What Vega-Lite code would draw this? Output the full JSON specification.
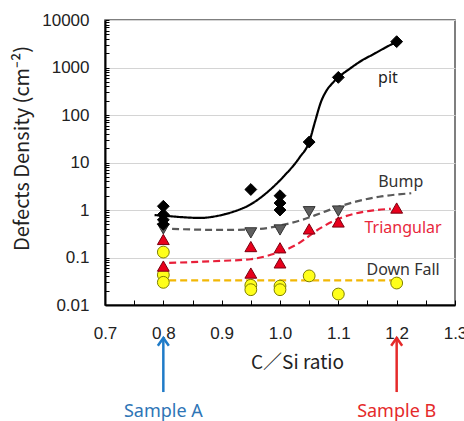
{
  "$schema": "https://vega.github.io/schema/vega-lite/v6.json",
  "width": 350,
  "height": 285,
  "autosize": "none",
  "padding": {"left": 105, "top": 20, "right": 9, "bottom": 116},
  "background": "white",
  "config": {
    "view": {"stroke": "#555", "strokeWidth": 1.5},
    "axis": {"domainColor": "#000", "domainWidth": 2, "tickColor": "#000", "labelColor": "#222", "titleColor": "#222", "labelFont": "Liberation Sans", "labelFontSize": 17, "titleFontWeight": "normal", "labelOverlap": false, "labelFlush": false}
  },
  "datasets": {
    "curves": [
      {"series": "pit", "x": 0.785, "y": 0.78}, {"series": "pit", "x": 0.8, "y": 0.76}, {"series": "pit", "x": 0.83, "y": 0.71}, {"series": "pit", "x": 0.863, "y": 0.68}, {"series": "pit", "x": 0.89, "y": 0.74}, {"series": "pit", "x": 0.92, "y": 0.92}, {"series": "pit", "x": 0.949, "y": 1.3}, {"series": "pit", "x": 0.977, "y": 2.3}, {"series": "pit", "x": 1.005, "y": 4.9}, {"series": "pit", "x": 1.034, "y": 13}, {"series": "pit", "x": 1.05, "y": 27}, {"series": "pit", "x": 1.06, "y": 72}, {"series": "pit", "x": 1.07, "y": 185}, {"series": "pit", "x": 1.08, "y": 330}, {"series": "pit", "x": 1.09, "y": 470}, {"series": "pit", "x": 1.1, "y": 620}, {"series": "pit", "x": 1.12, "y": 950}, {"series": "pit", "x": 1.14, "y": 1400}, {"series": "pit", "x": 1.16, "y": 1900}, {"series": "pit", "x": 1.18, "y": 2600}, {"series": "pit", "x": 1.2, "y": 3500},
      {"series": "Bump", "x": 0.815, "y": 0.4}, {"series": "Bump", "x": 0.9, "y": 0.38}, {"series": "Bump", "x": 0.95, "y": 0.39}, {"series": "Bump", "x": 0.98, "y": 0.42}, {"series": "Bump", "x": 1.0, "y": 0.47}, {"series": "Bump", "x": 1.038, "y": 0.62}, {"series": "Bump", "x": 1.07, "y": 0.86}, {"series": "Bump", "x": 1.094, "y": 1.1}, {"series": "Bump", "x": 1.13, "y": 1.5}, {"series": "Bump", "x": 1.17, "y": 1.9}, {"series": "Bump", "x": 1.225, "y": 2.25},
      {"series": "Triangular", "x": 0.81, "y": 0.077}, {"series": "Triangular", "x": 0.9, "y": 0.085}, {"series": "Triangular", "x": 0.95, "y": 0.092}, {"series": "Triangular", "x": 0.98, "y": 0.11}, {"series": "Triangular", "x": 1.026, "y": 0.18}, {"series": "Triangular", "x": 1.07, "y": 0.42}, {"series": "Triangular", "x": 1.1, "y": 0.65}, {"series": "Triangular", "x": 1.125, "y": 0.82}, {"series": "Triangular", "x": 1.16, "y": 0.98}, {"series": "Triangular", "x": 1.19, "y": 1.06},
      {"series": "Down Fall", "x": 0.81, "y": 0.033}, {"series": "Down Fall", "x": 1.2, "y": 0.033}
    ],
    "points": [
      {"series": "Down Fall", "x": 0.8, "y": 0.13}, {"series": "Down Fall", "x": 0.8, "y": 0.043}, {"series": "Down Fall", "x": 0.8, "y": 0.03}, {"series": "Down Fall", "x": 0.95, "y": 0.026}, {"series": "Down Fall", "x": 0.95, "y": 0.021}, {"series": "Down Fall", "x": 1.0, "y": 0.025}, {"series": "Down Fall", "x": 1.0, "y": 0.021}, {"series": "Down Fall", "x": 1.05, "y": 0.041}, {"series": "Down Fall", "x": 1.1, "y": 0.017}, {"series": "Down Fall", "x": 1.2, "y": 0.029},
      {"series": "Triangular", "x": 0.8, "y": 0.24}, {"series": "Triangular", "x": 0.8, "y": 0.066}, {"series": "Triangular", "x": 0.95, "y": 0.17}, {"series": "Triangular", "x": 0.95, "y": 0.047}, {"series": "Triangular", "x": 1.0, "y": 0.16}, {"series": "Triangular", "x": 1.0, "y": 0.077}, {"series": "Triangular", "x": 1.05, "y": 0.4}, {"series": "Triangular", "x": 1.1, "y": 0.56}, {"series": "Triangular", "x": 1.2, "y": 1.1},
      {"series": "Bump", "x": 0.8, "y": 0.4}, {"series": "Bump", "x": 0.95, "y": 0.33}, {"series": "Bump", "x": 1.0, "y": 0.38}, {"series": "Bump", "x": 1.05, "y": 0.92}, {"series": "Bump", "x": 1.1, "y": 0.95},
      {"series": "pit", "x": 0.8, "y": 1.2}, {"series": "pit", "x": 0.8, "y": 0.8}, {"series": "pit", "x": 0.8, "y": 0.62}, {"series": "pit", "x": 0.8, "y": 0.5}, {"series": "pit", "x": 0.95, "y": 2.7}, {"series": "pit", "x": 1.0, "y": 2.0}, {"series": "pit", "x": 1.0, "y": 1.4}, {"series": "pit", "x": 1.0, "y": 1.0}, {"series": "pit", "x": 1.05, "y": 27}, {"series": "pit", "x": 1.1, "y": 620}, {"series": "pit", "x": 1.2, "y": 3500}
    ],
    "labels": [
      {"series": "pit", "x": 1.185, "y": 600, "text": "pit"},
      {"series": "Bump", "x": 1.207, "y": 3.9, "text": "Bump"},
      {"series": "Triangular", "x": 1.211, "y": 0.42, "text": "Triangular"},
      {"series": "Down Fall", "x": 1.211, "y": 0.055, "text": "Down Fall"}
    ],
    "arrows": [
      {"sample": "Sample A", "x": 0.8, "y": 0.00202, "yb": 0.000147},
      {"sample": "Sample B", "x": 1.2, "y": 0.00202, "yb": 0.000147}
    ],
    "samples": [
      {"sample": "Sample A", "x": 0.8, "y": 0.0000558},
      {"sample": "Sample B", "x": 1.2, "y": 0.0000558}
    ]
  },
  "encoding": {
    "x": {
      "field": "x", "type": "quantitative",
      "scale": {"domain": [0.7, 1.3], "nice": false, "zero": false},
      "axis": {
        "values": [0.7, 0.75, 0.8, 0.85, 0.9, 0.95, 1.0, 1.05, 1.1, 1.15, 1.2, 1.25, 1.3],
        "labelExpr": "abs(datum.value*10-round(datum.value*10))<0.001 ? format(datum.value,'.1f') : ''",
        "title": "C／Si ratio", "titleFont": "Noto Sans CJK JP", "titleFontSize": 19,
        "titleX": 192, "titleAlign": "center", "titlePadding": 12,
        "labelPadding": 25, "tickSize": -5, "grid": false
      }
    },
    "y": {
      "field": "y", "type": "quantitative",
      "scale": {"type": "log", "domain": [0.01, 10000], "nice": false},
      "axis": {
        "values": [0.01, 0.02, 0.03, 0.04, 0.05, 0.06, 0.07, 0.08, 0.09, 0.1, 0.2, 0.3, 0.4, 0.5, 0.6, 0.7, 0.8, 0.9, 1, 2, 3, 4, 5, 6, 7, 8, 9, 10, 20, 30, 40, 50, 60, 70, 80, 90, 100, 200, 300, 400, 500, 600, 700, 800, 900, 1000, 2000, 3000, 4000, 5000, 6000, 7000, 8000, 9000, 10000],
        "labelExpr": "abs(log(datum.value)/LN10 - round(log(datum.value)/LN10)) < 0.001 ? toString(datum.value) : ''",
        "grid": true, "gridColor": "#d4d4d4", "gridWidth": 1,
        "gridOpacity": {"condition": {"test": "abs(log(datum.value)/LN10 - round(log(datum.value)/LN10)) < 0.001", "value": 1}, "value": 0},
        "title": "Defects Density (cm⁻²)", "titleFont": "Noto Sans CJK JP", "titleFontSize": 20,
        "titleX": -77, "titleY": 128, "titleAlign": "center", "titleBaseline": "alphabetic",
        "labelPadding": 20, "tickSize": -4
      }
    }
  },
  "layer": [
    {
      "data": {"name": "curves"},
      "mark": {"type": "line", "interpolate": "monotone", "strokeWidth": 2.2},
      "encoding": {
        "color": {"field": "series", "type": "nominal", "legend": null, "scale": {"domain": ["pit", "Bump", "Triangular", "Down Fall"], "range": ["#000000", "#5a5a5a", "#e8203a", "#f2b705"]}},
        "strokeDash": {"field": "series", "type": "nominal", "legend": null, "scale": {"domain": ["pit", "Bump", "Triangular", "Down Fall"], "range": [[1, 0], [7, 4], [7, 4], [7, 4]]}}
      }
    },
    {
      "data": {"name": "points"},
      "mark": {"type": "point", "filled": true, "size": 140, "strokeWidth": 1, "opacity": 1},
      "encoding": {
        "shape": {"field": "series", "type": "nominal", "legend": null, "scale": {"domain": ["pit", "Bump", "Triangular", "Down Fall"], "range": ["diamond", "triangle-down", "triangle-up", "circle"]}},
        "fill": {"field": "series", "type": "nominal", "legend": null, "scale": {"domain": ["pit", "Bump", "Triangular", "Down Fall"], "range": ["#000000", "#5f5f5f", "#e8001c", "#ffff1a"]}},
        "stroke": {"field": "series", "type": "nominal", "legend": null, "scale": {"domain": ["pit", "Bump", "Triangular", "Down Fall"], "range": ["#000000", "#333333", "#7a0010", "#7f7f00"]}}
      }
    },
    {
      "data": {"name": "labels"},
      "mark": {"type": "text", "font": "Noto Sans", "fontSize": 16, "align": "center", "baseline": "middle"},
      "encoding": {
        "text": {"field": "text"},
        "color": {"field": "series", "type": "nominal", "legend": null, "scale": {"domain": ["pit", "Bump", "Triangular", "Down Fall"], "range": ["#222222", "#333333", "#e8283c", "#333333"]}}
      }
    },
    {
      "data": {"name": "arrows"},
      "mark": {"type": "rule", "strokeWidth": 2.5},
      "encoding": {
        "y2": {"field": "yb"},
        "color": {"field": "sample", "type": "nominal", "legend": null, "scale": {"domain": ["Sample A", "Sample B"], "range": ["#1f7bc8", "#e52a2a"]}}
      }
    },
    {
      "data": {"name": "arrows"},
      "mark": {"type": "point", "shape": "M-1,1.4L0,0L1,1.4", "filled": false, "size": 121, "strokeWidth": 2.5, "opacity": 1},
      "encoding": {
        "color": {"field": "sample", "type": "nominal", "legend": null, "scale": {"domain": ["Sample A", "Sample B"], "range": ["#1f7bc8", "#e52a2a"]}}
      }
    },
    {
      "data": {"name": "samples"},
      "mark": {"type": "text", "font": "Noto Sans", "fontSize": 18, "align": "center", "baseline": "middle"},
      "encoding": {
        "text": {"field": "sample"},
        "color": {"field": "sample", "type": "nominal", "legend": null, "scale": {"domain": ["Sample A", "Sample B"], "range": ["#2e75b6", "#e52a2a"]}}
      }
    }
  ],
  "resolve": {"scale": {"color": "independent"}}
}
